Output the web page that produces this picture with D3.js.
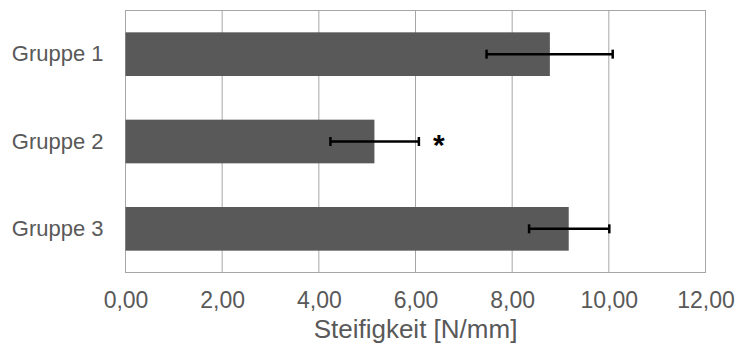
<!DOCTYPE html>
<html>
<head>
<meta charset="utf-8">
<script src="https://cdn.jsdelivr.net/npm/d3@7"></script>
<style>
  body { margin: 0; background: #fff; }
  svg text { font-family: "Liberation Sans", Arial, sans-serif; }
</style>
</head>
<body>
<svg id="chart" width="737" height="345"></svg>
<script>
// Stiffness per group (mean with lower / upper error bounds)
const groups = ["Gruppe 1", "Gruppe 2", "Gruppe 3"];
const means = [8.78, 5.15, 9.17];
const errLow = [7.47, 4.24, 8.35];
const errHigh = [10.08, 6.07, 10.01];
const significant = [false, true, false];
const xTicks = [0, 2, 4, 6, 8, 10, 12];

const svg = d3.select("#chart");
const margin = { left: 125.5, right: 31.5, top: 10.5, bottom: 72.5 };
const W = 737, H = 345;
const x = d3.scaleLinear().domain([0, 12]).range([margin.left, W - margin.right]);
const y = d3.scaleBand().domain(groups).range([margin.top, H - margin.bottom])
  .paddingInner(0.5).paddingOuter(0.25);

const fmt = v => d3.format(".2f")(v).replace(".", ",");
const textColor = "#595959";
const fontFamily = "\"Liberation Sans\", Arial, sans-serif";

// vertical gridlines
svg.append("g").selectAll("line").data(xTicks).join("line")
  .attr("x1", d => x(d)).attr("x2", d => x(d))
  .attr("y1", margin.top).attr("y2", H - margin.bottom)
  .attr("stroke", "#a6a6a6").attr("stroke-width", 1);

// plot frame
svg.append("rect")
  .attr("x", margin.left).attr("y", margin.top)
  .attr("width", x(12) - x(0)).attr("height", H - margin.bottom - margin.top)
  .attr("fill", "none").attr("stroke", "#a6a6a6").attr("stroke-width", 1);

// bars
svg.append("g").selectAll("rect").data(groups).join("rect")
  .attr("x", x(0))
  .attr("y", d => y(d))
  .attr("width", (d, i) => x(means[i]) - x(0))
  .attr("height", y.bandwidth())
  .attr("fill", "#595959");

// error bars
const eb = svg.append("g").attr("stroke", "#000").attr("stroke-width", 2.5);
groups.forEach((g, i) => {
  const cy = y(g) + y.bandwidth() / 2;
  eb.append("line").attr("x1", x(errLow[i])).attr("x2", x(errHigh[i])).attr("y1", cy).attr("y2", cy);
  [errLow[i], errHigh[i]].forEach(v => {
    eb.append("line").attr("x1", x(v)).attr("x2", x(v)).attr("y1", cy - 4.5).attr("y2", cy + 4.5);
  });
  if (significant[i]) {
    svg.append("text")
      .attr("x", x(errHigh[i]) + 20).attr("y", cy + 13)
      .attr("text-anchor", "middle")
      .attr("font-size", 30).attr("font-weight", "bold")
      .attr("fill", "#000")
      .text("*");
  }
});

// x axis tick labels
const xAxis = d3.axisBottom(x).tickValues(xTicks).tickFormat(fmt).tickSize(0).tickPadding(19);
const gx = svg.append("g").attr("transform", `translate(0,${H - margin.bottom})`).call(xAxis);
gx.select(".domain").remove();
gx.selectAll("text").attr("font-size", 23).attr("fill", textColor).style("font-family", fontFamily);

// y axis category labels
const yAxis = d3.axisLeft(y).tickSize(0).tickPadding(14);
const gy = svg.append("g").attr("transform", `translate(${margin.left - 8},0)`).call(yAxis);
gy.select(".domain").remove();
gy.selectAll("text").attr("font-size", 22).attr("fill", textColor).style("font-family", fontFamily);

// axis title
svg.append("text")
  .attr("x", (x(0) + x(12)) / 2).attr("y", 338)
  .attr("text-anchor", "middle")
  .attr("font-size", 26).attr("fill", textColor)
  .text("Steifigkeit [N/mm]");
</script>
</body>
</html>
